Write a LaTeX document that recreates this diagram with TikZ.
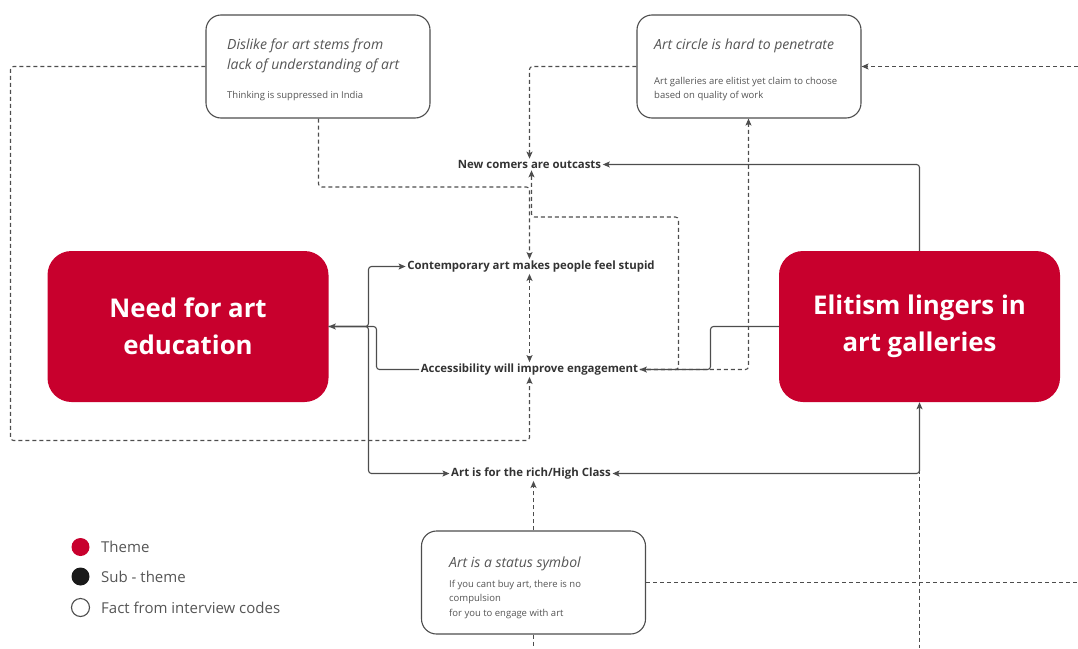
\documentclass[tikz,border=0pt]{standalone}
\usepackage{fontspec}
\setmainfont{Open Sans}
\usetikzlibrary{arrows.meta,calc}
\definecolor{crim}{HTML}{C8002D}
\definecolor{ln}{HTML}{4D4D4D}
\definecolor{tx}{HTML}{333333}
\definecolor{fx}{HTML}{555555}
\begin{document}
\begin{tikzpicture}[x=1pt,y=-1pt,
  theme/.style={fill=crim, draw=none, rounded corners=24pt, minimum width=281pt, minimum height=151pt, inner sep=0pt, text=white, font=\fontsize{25.8}{37}\selectfont\bfseries, align=center},
  factbox/.style={draw=ln, line width=1.1pt, rounded corners=15pt, minimum width=224pt, minimum height=103pt, fill=white, inner sep=0pt},
  facttitle/.style={anchor=base west, inner sep=0pt, text=fx, font=\fontsize{14}{21}\selectfont\itshape},
  factsub/.style={anchor=base west, inner sep=0pt, text=fx, font=\fontsize{9.5}{14}\selectfont},
  subtheme/.style={anchor=base, inner sep=1.5pt, text=tx, font=\fontsize{11.4}{14}\selectfont\bfseries},
  conn/.style={draw=ln, line width=1.1pt, rounded corners=3pt},
  tip/.style={-{Stealth[length=7pt,width=6pt,inset=1.5pt]}},
  twotip/.style={{Stealth[length=7pt,width=6pt,inset=1.5pt]}-{Stealth[length=7pt,width=6pt,inset=1.5pt]}},
  dashconn/.style={conn, dash pattern=on 4pt off 3pt},
  legdot/.style={circle, minimum size=18pt, inner sep=0pt, line width=1.1pt},
  legtext/.style={anchor=west, inner sep=0pt, text=fx, font=\fontsize{15}{17}\selectfont}
]
\useasboundingbox (0,0) rectangle (1078,648);

% fact boxes
\node[factbox] (dislike) at (318,66.5) {};
\node[facttitle] (dt1) at (227,49) {Dislike for art stems from};
\node[facttitle] (dt2) at (227,69.5) {lack of understanding of art};
\node[factsub] (ds1) at (227,98) {Thinking is suppressed in India};

\node[factbox] (artc) at (749,66.5) {};
\node[facttitle] (at1) at (654,49) {Art circle is hard to penetrate};
\node[factsub] (as1) at (654,84) {Art galleries are elitist yet claim to choose};
\node[factsub] (as2) at (654,98) {based on quality of work};

\node[factbox] (status) at (533.5,582.5) {};
\node[facttitle] (st1) at (449,567) {Art is a status symbol};
\node[factsub] (ss1) at (449,587) {If you cant buy art, there is no};
\node[factsub] (ss2) at (449,601.5) {compulsion};
\node[factsub] (ss3) at (449,616) {for you to engage with art};

% themes
\node[theme] (need) at (188,326.5) {Need for art\\education};
\node[theme] (elit) at (919.5,326.5) {Elitism lingers in\\art galleries};

% sub-themes
\node[subtheme] (nc) at (529.5,168.5) {New comers are outcasts};
\node[subtheme] (contemp) at (531,269.5) {Contemporary art makes people feel stupid};
\node[subtheme] (access) at (529.5,372.5) {Accessibility will improve engagement};
\node[subtheme] (rich) at (531,476.5) {Art is for the rich/High Class};

% helper coordinates
\coordinate (c187) at (318.5,187);
\coordinate (c217) at (678.5,217);
\coordinate (c376) at (376.5,326.5);
\coordinate (c368) at (368.5,326.5);
\coordinate (c710) at (710.5,326.5);
\coordinate (c748) at (748.5,0);
\coordinate (tl) at (10.5,66.5);
\coordinate (bl) at (10.5,440.5);
\coordinate (eR) at (1078,66.5);
\coordinate (eR2) at (1078,582.5);
\coordinate (bot) at (0,648);

% solid connectors
\draw[conn,tip] (elit.north) |- (nc.east);
\draw[conn,tip] (elit.west) -- (c710) |- (access.east);
\draw[conn,twotip] (rich.east) -| (elit.south);
\draw[conn,tip] (access.west) -| (c376) -- (need.east);
\draw[conn,tip] (need.east) -- (c368) |- (contemp.west);
\draw[conn,tip] (need.east) -- (c368) |- (rich.west);

% dashed connectors
\draw[dashconn,tip] (dislike.south -| c187) -- (c187) -| (contemp.north -| nc.south);
\draw[dashconn,tip] (access.east) -| (c217) -| ([xshift=2pt]nc.south);
\draw[dashconn,tip] (artc.west) -| (nc.north);
\draw[dashconn,twotip] (contemp.south -| access.north) -- (access.north);
\draw[dashconn,tip] (dislike.west) -- (tl) -- (bl) -| (access.south);
\draw[dashconn,tip] (access.east) -| (artc.south -| c748);
\draw[dashconn,tip] (eR) -- (artc.east);
\draw[dashconn,tip] (status.north) -- (status.north |- rich.south);
\draw[dashconn] (status.south) -- (status.south |- bot);
\draw[dashconn] (status.east) -- (eR2);
\draw[dashconn] ([yshift=4pt]elit.south |- rich.east) -- (elit.south |- bot);

% legend
\node[legdot, fill=crim] (lg1) at (80.5,547) {};
\node[legdot, fill=black!90] (lg2) at (80.5,576.5) {};
\node[legdot, draw=ln, fill=white] (lg3) at (80.5,607.5) {};
\node[legtext] (lt1) at (101,547) {Theme};
\node[legtext] (lt2) at (101,576.5) {Sub - theme};
\node[legtext] (lt3) at (101,607.5) {Fact from interview codes};
\end{tikzpicture}
\end{document}
